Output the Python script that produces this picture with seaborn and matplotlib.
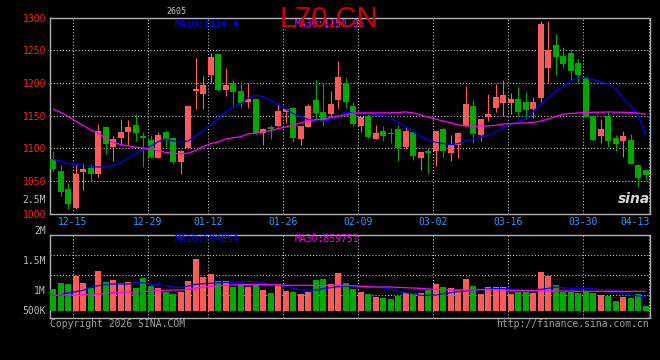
import matplotlib
matplotlib.use("Agg")
import matplotlib.pyplot as plt
import numpy as np
import pandas as pd
import seaborn as sns


# Daily bars (80 sessions, oldest first)
opens = [1084, 1065, 1037, 1009, 1064, 1070, 1061, 1132, 1102, 1115,
         1125, 1135, 1119, 1112, 1085, 1124, 1115, 1079, 1100, 1187.5,
         1183, 1212, 1244, 1189, 1199, 1187.5, 1171, 1175, 1123, 1132,
         1134, 1155, 1162, 1114, 1132, 1174, 1155, 1152, 1174, 1199,
         1164.5, 1134, 1149, 1114, 1126, 1123.5, 1129, 1102, 1125, 1085,
         1095.5, 1096, 1129, 1093, 1105, 1134, 1164.5, 1120, 1148, 1161,
         1168.5, 1168.5, 1175, 1170, 1160, 1177, 1222, 1258, 1241, 1246,
         1230, 1209.5, 1149, 1118.5, 1150, 1115, 1111, 1112, 1074, 1066]
closes = [1068, 1033, 1014, 1060, 1068, 1061, 1126, 1107, 1114, 1125,
          1132, 1123.5, 1115, 1087, 1120, 1113, 1079, 1095.5, 1164.5, 1190.5,
          1196, 1239, 1189, 1197, 1186.5, 1169, 1175, 1123, 1129, 1129,
          1157, 1160, 1115, 1134, 1164.5, 1154, 1141.5, 1167.5, 1209, 1171,
          1136.5, 1148, 1117, 1123.5, 1118.5, 1121.5, 1100.5, 1126, 1088.5, 1094.5,
          1093, 1126.5, 1095.5, 1104.5, 1123.5, 1167, 1121, 1145, 1152, 1178,
          1181.5, 1175, 1155, 1158.5, 1170, 1290, 1250.5, 1240, 1228.5, 1218.5,
          1212, 1148, 1112.5, 1130, 1111, 1107, 1119, 1075.5, 1054.5, 1058.5]
highs = [1095.5, 1074, 1046, 1074, 1077.5, 1075.5, 1136.5, 1134, 1118.5, 1144.5,
         1142.5, 1153, 1124, 1120, 1124, 1128.5, 1117.5, 1097.5, 1164.5, 1238.5,
         1210.5, 1246, 1244, 1223, 1206, 1203, 1199, 1176, 1131.5, 1135.5,
         1168.5, 1160, 1163, 1134.5, 1167, 1204.5, 1199, 1187.5, 1233.5, 1208,
         1171, 1148, 1152.5, 1135.5, 1134, 1130.5, 1135.5, 1132, 1126, 1094.5,
         1100.5, 1128.5, 1133, 1120, 1125, 1195.5, 1173.5, 1145, 1183, 1198.5,
         1204.5, 1184, 1193, 1185.5, 1179, 1295, 1295, 1275, 1254.5, 1251.5,
         1236, 1209.5, 1150.5, 1144.5, 1157, 1120, 1126, 1121.5, 1076.5, 1066]
lows = [1065, 1026.5, 1007.5, 1007.5, 1036.5, 1047.5, 1056, 1090.5, 1080.5, 1105.5,
        1105.5, 1111, 1071.5, 1084.5, 1085, 1102, 1076.5, 1061, 1098.5, 1160,
        1160, 1199, 1188, 1180, 1166, 1162, 1162, 1122, 1104.5, 1114,
        1133, 1138, 1109, 1105.5, 1132, 1144.5, 1134.5, 1148, 1162, 1161,
        1134, 1124, 1116, 1114, 1111, 1108.5, 1080.5, 1098.5, 1082, 1066.5,
        1062.5, 1073, 1087, 1080.5, 1085, 1134, 1108.5, 1111.5, 1141.5, 1156,
        1149.5, 1152.5, 1149.5, 1144.5, 1146.5, 1170, 1199, 1212, 1222.5, 1203.5,
        1199, 1147, 1111.5, 1108.5, 1102, 1095.5, 1087, 1075.5, 1041, 1051]
volumes = [959e3, 1217e3, 1161e3, 1505e3, 1217e3, 976e3, 1720e3, 1260e3, 1333e3, 1217e3,
           1234e3, 1002e3, 1432e3, 1075e3, 1002e3, 830e3, 744e3, 830e3, 1290e3, 2249e3,
           1475e3, 1591e3, 1290e3, 1290e3, 1045e3, 1118e3, 1045e3, 1148e3, 903e3, 774e3,
           1148e3, 860e3, 817e3, 744e3, 830e3, 1333e3, 1376e3, 1161e3, 1634e3, 1204e3,
           946e3, 830e3, 731e3, 602e3, 559e3, 516e3, 632e3, 787e3, 761e3, 774e3,
           903e3, 1161e3, 1032e3, 989e3, 916e3, 1376e3, 1075e3, 731e3, 1019e3, 1019e3,
           1032e3, 731e3, 817e3, 817e3, 774e3, 1677e3, 1505e3, 1118e3, 817e3, 817e3,
           774e3, 817e3, 774e3, 688e3, 645e3, 430e3, 602e3, 559e3, 731e3, 215e3]

# Moving averages as drawn on the chart
ma10 = [1083, 1080, 1076.5, 1075, 1074, 1072.5, 1071, 1071.5, 1074, 1078,
        1085, 1092, 1097.5, 1103, 1110, 1114, 1111, 1109, 1111, 1119,
        1127.5, 1135.5, 1144.5, 1156, 1163.5, 1168, 1177, 1181, 1179, 1173,
        1167, 1160, 1153, 1148, 1144, 1141.5, 1141.5, 1143.5, 1149, 1155,
        1154, 1153, 1153, 1152, 1150.5, 1146.5, 1139.5, 1133, 1125, 1117.5,
        1112.5, 1109, 1107, 1105.5, 1107, 1111, 1114, 1117, 1120, 1125,
        1131, 1136.5, 1140.5, 1145.5, 1156, 1167, 1177, 1187.5, 1195.5, 1203,
        1207, 1208, 1205, 1202, 1198, 1191.5, 1176, 1165, 1150.5, 1120]
ma30 = [1159.5, 1155, 1148.5, 1141.5, 1134.5, 1128, 1123, 1115.5, 1109, 1105.5,
        1103.5, 1101.5, 1100, 1099, 1096, 1093.5, 1092, 1091.5, 1092.5, 1096.5,
        1102.5, 1107, 1109.5, 1114, 1116, 1117.5, 1122, 1123, 1125, 1127,
        1130, 1132.5, 1135.5, 1138.5, 1142.5, 1143.5, 1144.5, 1147, 1149, 1151,
        1154, 1154, 1154, 1154, 1154, 1154, 1154.5, 1155.5, 1154, 1151,
        1147.5, 1144.5, 1141.5, 1139, 1135.5, 1134, 1133.5, 1133.5, 1134, 1135,
        1137, 1137.5, 1138.5, 1138.5, 1139.5, 1141.5, 1144.5, 1148.5, 1152, 1153,
        1154, 1154.5, 1155, 1155, 1155.5, 1155, 1155, 1154.5, 1153.5, 1152]
vol_ma10 = [674e3, 688e3, 788e3, 831e3, 889e3, 1032e3, 1089e3, 1132e3, 1161e3, 1161e3,
            1161e3, 1218e3, 1218e3, 1161e3, 1132e3, 1089e3, 1046e3, 1003e3, 1075e3, 1147e3,
            1175e3, 1190e3, 1218e3, 1233e3, 1233e3, 1247e3, 1261e3, 1261e3, 1233e3, 1132e3,
            1104e3, 1061e3, 989e3, 903e3, 889e3, 903e3, 960e3, 1003e3, 1046e3, 1075e3,
            1061e3, 1046e3, 1046e3, 1032e3, 1003e3, 932e3, 846e3, 788e3, 745e3, 674e3,
            674e3, 688e3, 745e3, 788e3, 831e3, 860e3, 903e3, 932e3, 946e3, 960e3,
            960e3, 946e3, 932e3, 917e3, 903e3, 932e3, 975e3, 1032e3, 1003e3, 975e3,
            946e3, 960e3, 946e3, 917e3, 917e3, 874e3, 774e3, 688e3, 645e3, 602e3]
vol_ma30 = [688e3, 688e3, 688e3, 688e3, 702e3, 731e3, 731e3, 760e3, 788e3, 803e3,
            817e3, 817e3, 831e3, 860e3, 874e3, 889e3, 903e3, 903e3, 946e3, 989e3,
            1032e3, 1061e3, 1075e3, 1104e3, 1118e3, 1132e3, 1147e3, 1147e3, 1147e3, 1132e3,
            1118e3, 1104e3, 1104e3, 1104e3, 1104e3, 1104e3, 1104e3, 1104e3, 1104e3, 1104e3,
            1089e3, 1061e3, 1046e3, 1032e3, 1032e3, 1032e3, 1018e3, 1003e3, 989e3, 975e3,
            946e3, 932e3, 917e3, 903e3, 903e3, 903e3, 903e3, 917e3, 917e3, 917e3,
            903e3, 889e3, 889e3, 874e3, 874e3, 874e3, 874e3, 874e3, 860e3, 860e3,
            846e3, 846e3, 846e3, 846e3, 846e3, 846e3, 846e3, 846e3, 846e3, 846e3]

date_labels = ["12-15", "12-29", "01-12", "01-26", "02-09", "03-02", "03-16", "03-30", "04-13"]
date_index = [3, 13, 21, 31, 41, 51, 61, 71, 80]
price_ticks = [1000, 1050, 1100, 1150, 1200, 1250, 1300]
vol_labels = ["2.5M", "2M", "1.5M", "1M", "500K"]

# Colours
RED = "#FF5A5A"
GREEN = "#00A800"
PALETTE = {"up": RED, "down": GREEN}
GRID = "#C8C8C8"
FRAME = "#B0B0B0"

W, H = 660, 360


def fig_rect(left, top, right, bottom):
    # pixel box -> figure fraction
    return [left / W, 1 - bottom / H, (right - left) / W, (bottom - top) / H]


df = pd.DataFrame({
    "open": opens, "high": highs, "low": lows, "close": closes,
    "volume": volumes, "ma10": ma10, "ma30": ma30,
    "vma10": vol_ma10, "vma30": vol_ma30,
})
df["idx"] = np.arange(len(df))
df["dir"] = np.where(df["close"] >= df["open"], "up", "down")

sns.set_style("dark", {"axes.facecolor": "black", "figure.facecolor": "black"})
plt.rcParams["font.family"] = ["DejaVu Sans Mono"]

fig = plt.figure(figsize=(W / 100, H / 100), dpi=100, facecolor="black")
ax = fig.add_axes(fig_rect(50, 17.5, 649.5, 213.5))
axv = fig.add_axes(fig_rect(50, 234.7, 649.5, 318.3))

x_left, x_right = -0.43, 79.51
grid_pos = np.minimum(np.array(date_index) - 0.4, x_right - 0.02)

# ---- price panel ----
colors = df["dir"].map(PALETTE)
ax.vlines(df["idx"], df["low"], df["high"], colors=colors, linewidth=0.8, zorder=3)
body_lo = df[["open", "close"]].min(axis=1)
body_h = (df["close"] - df["open"]).abs().clip(lower=1.5)
ax.bar(df["idx"], body_h, bottom=body_lo, width=0.8, color=colors, linewidth=0, zorder=3)

sns.lineplot(data=df, x="idx", y="ma10", color="#0000FF", linewidth=0.9, ax=ax, zorder=4)
sns.lineplot(data=df, x="idx", y="ma30", color="#FF00FF", linewidth=0.9, ax=ax, zorder=4)

ax.set_xlim(x_left, x_right)
ax.set_ylim(1000, 1300)
ax.set_yticks(price_ticks)
ax.set_yticklabels([str(t) for t in price_ticks], color="#FF2020", fontsize=7)
ax.set_xticks(grid_pos)
ax.set_xticklabels(date_labels, color="#3399FF", fontsize=7)
ax.get_xticklabels()[-1].set_horizontalalignment("right")
ax.tick_params(axis="both", length=0, pad=2.5)
ax.set_xlabel("")
ax.set_ylabel("")

# ---- volume panel ----
sns.barplot(data=df, x="idx", y="volume", hue="dir", palette=PALETTE, dodge=False,
            width=0.8, saturation=1, linewidth=0, legend=False, ax=axv, zorder=3)
sns.lineplot(data=df, x="idx", y="vma10", color="#0000FF", linewidth=0.9, ax=axv, zorder=4)
sns.lineplot(data=df, x="idx", y="vma30", color="#FF00FF", linewidth=0.9, ax=axv, zorder=4)

axv.set_xlim(x_left, x_right)
axv.set_ylim(-314e3, 3.281e6)
axv.set_xticks(grid_pos)
axv.set_xticklabels([])
axv.set_yticks([688e3, 1548e3, 2408e3])
axv.set_yticklabels([])
axv.tick_params(axis="both", length=0)
axv.set_xlabel("")
axv.set_ylabel("")

for a in (ax, axv):
    a.set_axisbelow(True)
    a.grid(True, color=GRID, linestyle=(0, (1, 2)), linewidth=0.75)
    for s in a.spines.values():
        s.set_color(FRAME)
        s.set_linewidth(1.0)
        s.set_visible(True)

# volume scale labels, where the chart prints them
for lab, ypx in zip(vol_labels, [200, 231, 261, 291, 311]):
    axv.text(-0.0067, (318.3 - ypx) / 83.6, lab, transform=axv.transAxes,
             ha="right", va="center", color="#B8B8B8", fontsize=7, clip_on=False)

# ---- header / footer texts ----
fig.text(176 / W, 1 - 11 / H, "2605", color="#C0C0C0", fontsize=6,
         ha="center", va="center")
fig.text(175 / W, 1 - 24 / H, "MA10:1114.4", color="#0000FF", fontsize=7, va="center")
fig.text(295 / W, 1 - 24 / H, "MA30:1150.95", color="#FF00FF", fontsize=7, va="center")
fig.text(329 / W, 1 - 27 / H, "L70.CN", color="#D00000", fontsize=21, ha="center",
         va="baseline", family=["Liberation Sans", "DejaVu Sans"])
fig.text(175 / W, 1 - 238.5 / H, "MA10:594054", color="#0000FF", fontsize=7, va="center")
fig.text(295 / W, 1 - 238.5 / H, "MA30:859751", color="#FF00FF", fontsize=7, va="center")
fig.text(50 / W, 1 - 324 / H, "Copyright 2026 SINA.COM", color="#A0A0A0", fontsize=7, va="center")
fig.text(649 / W, 1 - 324 / H, "http://finance.sina.com.cn", color="#A0A0A0", fontsize=7,
         ha="right", va="center")
fig.text(634 / W, 1 - 199 / H, "sina", color="#D8D8D8", fontsize=10, ha="center",
         va="center", style="italic", weight="bold", family=["DejaVu Sans"])

fig.savefig("out.png", dpi=100, facecolor="black")
